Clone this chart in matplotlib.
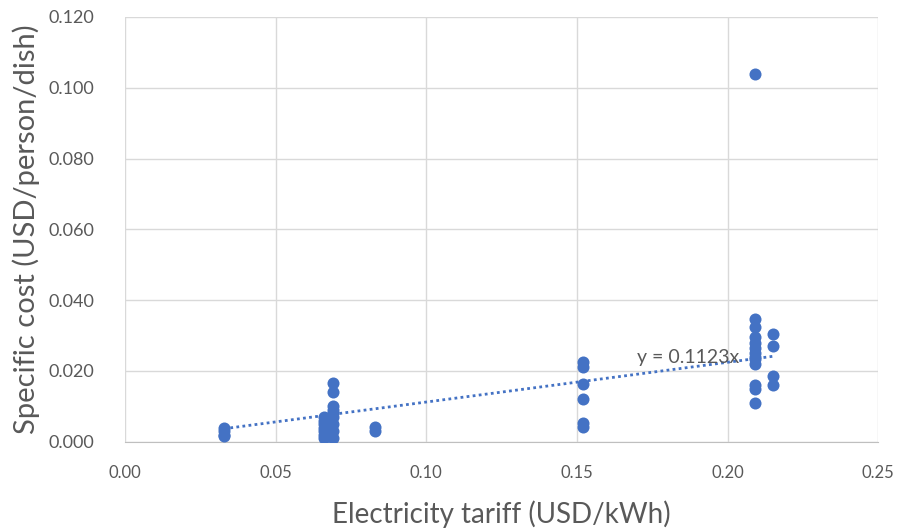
import matplotlib
matplotlib.use("Agg")
import matplotlib.pyplot as plt
import numpy as np

plt.rcParams['font.family'] = ['Lato', 'DejaVu Sans']

tariff = [0.033, 0.033, 0.033, 0.033,
          0.069, 0.069, 0.069, 0.069, 0.069, 0.069, 0.069, 0.069, 0.069,
          0.066, 0.066, 0.066, 0.066, 0.066, 0.066, 0.066,
          0.067, 0.067, 0.067,
          0.083, 0.083,
          0.152, 0.152, 0.152, 0.152, 0.152, 0.152,
          0.209, 0.209, 0.209, 0.209, 0.209, 0.209, 0.209, 0.209, 0.209, 0.209, 0.209, 0.209, 0.209,
          0.215, 0.215, 0.215, 0.215]
cost = [0.004, 0.003, 0.002, 0.0015,
        0.0167, 0.0140, 0.0100, 0.0090, 0.0080, 0.0070, 0.0050, 0.0030, 0.0010,
        0.0070, 0.0060, 0.0050, 0.0040, 0.0030, 0.0020, 0.0010,
        0.0065, 0.0045, 0.0025,
        0.0042, 0.0030,
        0.0225, 0.0210, 0.0162, 0.0122, 0.0052, 0.0042,
        0.1040, 0.0348, 0.0325, 0.0295, 0.0280, 0.0265, 0.0250, 0.0235, 0.0220, 0.0160, 0.0150, 0.0110, 0.0240,
        0.0305, 0.0272, 0.0185, 0.0160]
slope = 0.1123
trend_label = "y = 0.1123x"
x_ticks = [0.00, 0.05, 0.10, 0.15, 0.20, 0.25]
y_ticks = [0.000, 0.020, 0.040, 0.060, 0.080, 0.100, 0.120]

fig = plt.figure(figsize=(8.98, 5.31), dpi=100)
ax = fig.add_axes([0.139, 0.168, 0.839, 0.800])

ax.scatter(tariff, cost, s=75, color='#4472C4', zorder=3, linewidths=0)
xt = np.array([min(tariff), max(tariff)])
ax.plot(xt, slope * xt, linestyle=(0, (1, 1.2)), color='#4472C4', linewidth=2, zorder=2)
ax.text(0.170, 0.0222, trend_label, fontsize=14, color='#595959', zorder=4)

ax.set_xlim(0, 0.25)
ax.set_ylim(0, 0.12)
ax.set_xticks(x_ticks)
ax.set_yticks(y_ticks)
ax.set_xticklabels([f"{v:.2f}" for v in x_ticks])
ax.set_yticklabels([f"{v:.3f}" for v in y_ticks])
ax.grid(True, color='#D9D9D9', linewidth=1)
ax.set_axisbelow(True)
for s in ['top', 'right', 'left']:
    ax.spines[s].set_visible(False)
ax.spines['bottom'].set_color('#BFBFBF')
ax.tick_params(axis='x', length=0, labelsize=12, colors='#595959', pad=17)
ax.tick_params(axis='y', length=0, labelsize=13, colors='#595959', pad=22)
ax.set_xlabel("Electricity tariff (USD/kWh)", fontsize=20, color='#595959', labelpad=14)
ax.set_ylabel("Specific cost (USD/person/dish)", fontsize=21, color='#595959', labelpad=6)

fig.savefig("out.png", dpi=100, facecolor='white')
